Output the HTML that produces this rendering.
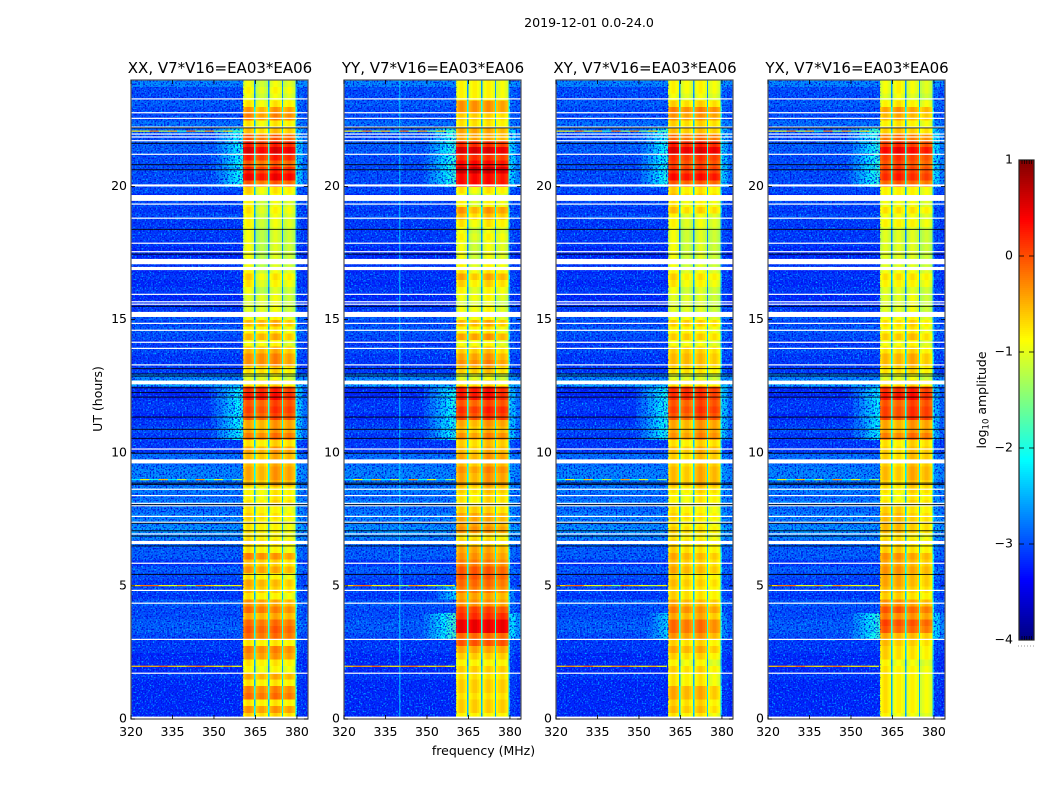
<!DOCTYPE html>
<html lang="en">
<head>
<meta charset="utf-8">
<title>2019-12-01 0.0-24.0 dynamic spectra</title>
<style>
html,body{margin:0;padding:0;background:#fff;}
svg{display:block;font-family:"DejaVu Sans","Liberation Sans",sans-serif;}
text{fill:#000;}
</style>
</head>
<body>
<svg id="figure" width="1050" height="800" viewBox="0 0 1050 800" xmlns="http://www.w3.org/2000/svg">
  <defs>
    <filter id="speckle-light" x="0" y="0" width="100%" height="100%" color-interpolation-filters="sRGB">
      <feTurbulence type="fractalNoise" baseFrequency="0.62" numOctaves="1" seed="4"/>
      <feColorMatrix type="matrix" values="0 0 0 0 0  0 0 0 0 0.68  0 0 0 0 1  4 0 0 0 -2.05"/>
    </filter>
    <filter id="speckle-dark" x="0" y="0" width="100%" height="100%" color-interpolation-filters="sRGB">
      <feTurbulence type="fractalNoise" baseFrequency="0.62" numOctaves="1" seed="11"/>
      <feColorMatrix type="matrix" values="0 0 0 0 0  0 0 0 0 0.06  0 0 0 0 0.88  0 4.5 0 0 -2.15"/>
    </filter>
  </defs>
  <rect x="0" y="0" width="1050" height="800" fill="#fff"/>
  <text x="589" y="27" font-size="12.6" text-anchor="middle">2019-12-01 0.0-24.0</text>
  <text x="0" y="0" font-size="12.5" text-anchor="middle" transform="translate(102,399) rotate(-90)">UT (hours)</text>
  <text x="483.500" y="755" font-size="12.5" text-anchor="middle">frequency (MHz)</text>
  <text x="0" y="0" font-size="12.5" text-anchor="middle" transform="translate(986,400) rotate(-90)">log<tspan font-size="8.500" dy="2.500">10</tspan><tspan dy="-2.500"> amplitude</tspan></text>
  <g id="panels"></g>
  <g id="colorbar"></g>
</svg>
<script>
// ---- Data: log10 amplitude x10, one value per 0.25 h of UT ----
const panelTitles = ["XX, V7*V16=EA03*EA06", "YY, V7*V16=EA03*EA06", "XY, V7*V16=EA03*EA06", "YX, V7*V16=EA03*EA06"];
const bandXX = [
  -7,-4,-8,-2,-3,-8,-5,-9,-8,-4,-3,-8,
  -2,-1,-2,-5,-2,-4,-8,-6,-5,-8,-4,-6,
  -3,-8,-7,-8,-8,-8,-7,-8,-7,-8,-8,-5,
  -4,-4,-5,-5,-4,-7,-2,-4,-4,0,1,0,
  3,2,-7,-10,-7,-3,-3,-5,-9,-5,-8,-5,
  -9,-10,-10,-10,-10,-8,-7,-9,-10,-10,-10,-10,
  -10,-10,-9,-9,-8,-9,-8,-7,-1,4,2,-1,
  2,5,2,-1,-6,-8,-3,-4,-8,-10,-9,-10];
const bandYY = [
  -9,-7,-7,-8,-7,-7,-8,-7,-9,-7,-5,-1,
  -2,4,4,1,0,-4,-5,-3,-2,-1,-1,-3,
  -4,-5,-7,-8,-4,-5,-5,-7,-7,-7,-6,-4,
  -4,-3,-5,-4,-5,-6,-3,-5,-4,1,2,0,
  3,3,-7,-10,-6,-3,-4,-6,-9,-4,-8,-5,
  -9,-9,-10,-9,-9,-7,-5,-8,-9,-10,-10,-10,
  -9,-10,-8,-6,-4,-9,-10,-8,3,3,6,3,
  1,5,1,-5,-5,-8,-7,-4,-4,-9,-9,-9];
const bandXY = [
  -8,-6,-7,-5,-5,-8,-8,-7,-9,-7,-5,-7,
  -4,-2,-2,-5,-3,-5,-7,-7,-6,-7,-5,-6,
  -5,-7,-7,-8,-7,-8,-7,-8,-8,-8,-7,-5,
  -5,-5,-6,-6,-5,-7,-3,-4,-4,0,1,0,
  2,2,-7,-10,-7,-5,-5,-6,-9,-6,-8,-6,
  -9,-10,-10,-10,-10,-8,-7,-9,-10,-10,-10,-10,
  -10,-10,-9,-9,-6,-8,-6,-7,-1,3,1,0,
  1,5,2,-2,-6,-7,-4,-3,-7,-10,-9,-9];
const bandYX = [
  -9,-8,-8,-8,-8,-8,-8,-8,-9,-7,-7,-6,
  -5,-1,0,-3,-1,-4,-7,-6,-5,-5,-4,-5,
  -4,-7,-7,-8,-6,-6,-6,-7,-7,-8,-7,-6,
  -5,-5,-6,-6,-6,-7,-2,-4,-4,1,1,0,
  3,2,-7,-10,-7,-5,-5,-7,-9,-6,-8,-7,
  -9,-10,-10,-10,-10,-8,-7,-9,-10,-10,-10,-10,
  -10,-10,-8,-9,-7,-9,-8,-8,-1,2,1,0,
  1,4,1,-2,-6,-8,-5,-4,-8,-10,-9,-9];
const backgroundLevel = [
  -32,-32,-32,-32,-32,-32,-31,-32,-32,-32,-31,-31,
  -30,-29,-29,-30,-30,-29,-31,-30,-31,-30,-29,-31,
  -29,-29,-28,-27,-26,-27,-27,-28,-27,-28,-27,-28,
  -27,-27,-28,-28,-31,-31,-31,-30,-31,-32,-31,-31,
  -32,-32,-25,-27,-31,-31,-31,-30,-31,-30,-29,-30,
  -29,-31,-32,-32,-31,-32,-31,-32,-31,-32,-32,-31,
  -31,-31,-31,-30,-31,-30,-32,-30,-30,-30,-30,-30,
  -30,-29,-29,-30,-29,-28,-30,-30,-29,-30,-30,-27];
// Sub-band offsets (4 sub-bands) for each 4-hour stretch of UT
const subbandXX = [[1,0,1,0],[1,0,0,-1],[0,-1,1,0],[0,0,1,-1],[1,-2,0,-1],[1,-1,1,0]];
const subbandYY = [[1,1,1,1],[1,1,1,0],[0,-1,1,0],[0,0,1,-1],[1,-1,1,0],[1,1,1,0]];
const subbandXY = [[1,0,1,-1],[1,0,0,-1],[0,-1,1,0],[0,0,0,-1],[1,-1,0,-1],[1,0,1,0]];
const subbandYX = [[1,0,0,-1],[1,1,0,-1],[0,-1,1,0],[0,0,1,-1],[0,0,0,-1],[0,1,0,-1]];
// Glow beside the band: [UT start, UT end, log10 amp x10 at band edge]
const shoulderXX = [[19.9,22.3,-20],[10.6,12.5,-20]];
const shoulderYY = [[19.9,22.3,-19],[10.6,12.5,-20],[3.1,4.0,-18],[4.5,5.0,-23]];
const shoulderXY = [[19.9,22.3,-20],[10.6,12.5,-20],[3.1,4.0,-23]];
const shoulderYX = [[19.9,22.3,-19],[10.6,12.5,-21],[3.0,4.0,-19]];
const verticalYY = [[340,-22]];
// Flagged data, UT hours, shared by all panels
const whiteLines = [23.29,22.77,22.56,22.23,21.97,21.86,21.72,21.21,19.34,18.81,17.87,17.55,15.95,15.67,15.58,14.86,14.60,14.15,13.92,13.30,10.14,8.63,8.39,8.10,8.01,7.61,7.39,6.95,5.85,4.83,4.35,2.99,1.72];
const whiteBlocks = [[20.0,20.08],[19.46,19.68],[17.08,17.28],[16.86,16.98],[15.10,15.29],[12.57,12.71],[9.60,9.75],[6.57,6.69],[0.01,0.09]];
const blackLines = [22.2,21.62,20.82,20.63,18.39,17.46,15.50,13.16,12.96,12.88,12.44,12.26,12.09,11.34,10.88,10.54,9.98,8.86,8.81,8.05,7.35,7.07,6.87,6.50,5.43];
// Interference rows: UT and amplitude along the off-band channels
const rfiHours = [1.98,5.01,22.08,8.99];
const rfiValues1 = [-6,-3,-5,-1,-6,-8,-4,-2,-6,-8,-5,-9];
const rfiValues2 = [-7,-2,-1,-8,-10,-5,-14,-3,-6,-9,-12,-8];
const rfiValues3 = [-8,-10,-3,-12,-6,-18,-2,-13,-4,-14,-7,-16];
const rfiValues4 = [-22,-9,-20,-6,-22,-12,-24,-4,-20,-10,-24,-14];
const xTicks = [320,335,350,365,380];
const yTicks = [0,5,10,15,20];
const colorTicks = [1,0,-1,-2,-3,-4];

const bandPanels = [bandXX, bandYY, bandXY, bandYX];
const subbandPanels = [subbandXX, subbandYY, subbandXY, subbandYX];
const shoulderPanels = [shoulderXX, shoulderYY, shoulderXY, shoulderYX];
const verticalPanels = [[], verticalYY, [], []];
const rfiPanels = [rfiValues1, rfiValues2, rfiValues3, rfiValues4];

// ---- Geometry and scales ----
const SVGNS = "http://www.w3.org/2000/svg";
const panelLefts = [131,344,556,768];
const plotW = 177, plotTop = 80, plotBottom = 719;
const fMin = 320, fMax = 384;
const offEdges = [320,325,330,335,340,345,347,349,351,353,355,357,359,360.5];
const subbandEdges = [360.5,365,370,375,380];
const profile = [-2,-1,0,0,-1,-2];
function xScale(left, mhz){ return left + (mhz - fMin) / (fMax - fMin) * plotW; }
function yScale(ut){ return plotBottom - ut / 24 * (plotBottom - plotTop); }
function cScale(v){ return 640 - (v + 4) / 5 * 480; }
function jet(v){
  const t = Math.max(0, Math.min(1, (v + 4) / 5));
  const ramp = function(x){ return Math.max(0, Math.min(1, 1.5 - Math.abs(4 * x))); };
  const r = Math.round(255 * ramp(t - 0.75));
  const g = Math.round(255 * ramp(t - 0.5));
  const b = Math.round(255 * ramp(t - 0.25));
  return "rgb(" + r + "," + g + "," + b + ")";
}
function make(tag, attrs){
  const el = document.createElementNS(SVGNS, tag);
  for (const k in attrs) el.setAttribute(k, attrs[k]);
  return el;
}
function shoulderAt(list, ut){
  let s = -99;
  for (const item of list){ if (ut >= item[0] && ut <= item[1] && item[2] > s) s = item[2]; }
  return s;
}

const panelsGroup = document.getElementById("panels");
panelTitles.forEach(function(title, p){
  const left = panelLefts[p];
  const g = make("g", {});
  
  
  const band = bandPanels[p], sub = subbandPanels[p], sh = shoulderPanels[p];
  const frag = document.createDocumentFragment();
  function cell(f0, f1, i, tenths){
    const y1 = yScale(i / 4), y0 = yScale((i + 1) / 4);
    const r = make("rect", {x: xScale(left, f0).toFixed(2), y: y0.toFixed(2), width: (xScale(left, f1) - xScale(left, f0) + 0.4).toFixed(2), height: (y1 - y0 + 0.4).toFixed(2), fill: jet(tenths / 10), "shape-rendering": "crispEdges"});
    
    
    frag.appendChild(r);
  }
  for (let i = 0; i < band.length; i++){
    const ut = (i + 0.5) / 4, bg = backgroundLevel[i], edge = shoulderAt(sh, ut);
    const seg = sub[Math.floor(i / 16)];
    for (let c = 0; c < offEdges.length - 1; c++){
      const dist = 360.5 - offEdges[c + 1];
      cell(offEdges[c], offEdges[c + 1], i, Math.max(bg, edge - dist * 1.0));
    }
    for (let s = 0; s < 4; s++){
      const a = subbandEdges[s], b = subbandEdges[s + 1], gap = 0.45;
      const w = (b - a - gap) / profile.length;
      for (let k = 0; k < profile.length; k++){
        cell(a + k * w, a + (k + 1) * w, i, band[i] + seg[s] + profile[k]);
      }
      cell(b - gap, b, i, Math.max(-28, Math.min(-20, band[i] - 17)));
    }
    cell(380, 382, i, Math.max(bg + 1, edge - 4));
    cell(382, 384, i, Math.max(bg, edge - 8));
  }
  g.appendChild(frag);

  [[320,360.5],[380,384]].forEach(function(range){
    ["speckle-light","speckle-dark"].forEach(function(id){
      const t = make("rect", {x: xScale(left, range[0]), y: plotTop, width: xScale(left, range[1]) - xScale(left, range[0]), height: plotBottom - plotTop, filter: "url(#" + id + ")"});
      
      
      g.appendChild(t);
    });
  });

  verticalPanels[p].forEach(function(v){
    const r = make("rect", {x: xScale(left, v[0]), y: plotTop, width: 1, height: plotBottom - plotTop, fill: jet(v[1] / 10), opacity: 0.8});
    
    
    g.appendChild(r);
  });

  rfiHours.forEach(function(ut, n){
    const vals = rfiPanels[n];
    vals.forEach(function(v, j){
      const f0 = 320 + j * 40 / vals.length, f1 = 320 + (j + 1) * 40 / vals.length;
      const r = make("rect", {x: xScale(left, f0), y: yScale(ut) - 0.6, width: xScale(left, f1) - xScale(left, f0) + 0.3, height: 1.2, fill: jet(v / 10)});
      
      
      g.appendChild(r);
    });
  });

  whiteLines.forEach(function(ut){
    const r = make("rect", {x: left, y: yScale(ut) - 0.6, width: plotW, height: 1.2, fill: "#fff"});
    
    
    g.appendChild(r);
  });
  whiteBlocks.forEach(function(b){
    const r = make("rect", {x: left, y: yScale(b[1]), width: plotW, height: yScale(b[0]) - yScale(b[1]), fill: "#fff"});
    
    
    g.appendChild(r);
  });
  blackLines.forEach(function(ut){
    const r = make("rect", {x: left, y: yScale(ut) - 0.5, width: plotW, height: 1, fill: "#000", opacity: 0.85});
    
    
    g.appendChild(r);
  });

  const frame = make("rect", {x: left, y: plotTop, width: plotW, height: plotBottom - plotTop, fill: "none", stroke: "#555", "stroke-width": 1.2});
  
  
  g.appendChild(frame);

  const t = make("text", {x: left + plotW / 2 + 0.5, y: 73, "font-size": 15, "text-anchor": "middle"});
  t.textContent = title;
  
  
  g.appendChild(t);

  xTicks.forEach(function(v){
    const x = xScale(left, v);
    [[plotBottom, plotBottom - 4],[plotTop, plotTop + 4]].forEach(function(pair){
      const l = make("line", {x1: x, x2: x, y1: pair[0], y2: pair[1], stroke: "#000", "stroke-width": 0.8});
      
      
      g.appendChild(l);
    });
    const lab = make("text", {x: x, y: 736, "font-size": 12.5, "text-anchor": "middle"});
    lab.textContent = v;
    
    
    g.appendChild(lab);
  });
  yTicks.forEach(function(v){
    const y = yScale(v);
    [[left, left + 4],[left + plotW, left + plotW - 4]].forEach(function(pair){
      const l = make("line", {x1: pair[0], x2: pair[1], y1: y, y2: y, stroke: "#000", "stroke-width": 0.8});
      
      
      g.appendChild(l);
    });
    const lab = make("text", {x: left - 4, y: y + 3.6, "font-size": 12.5, "text-anchor": "end"});
    lab.textContent = v;
    
    
    g.appendChild(lab);
  });
  panelsGroup.appendChild(g);
});

// ---- Colorbar ----
const cb = document.getElementById("colorbar");
const cbX = 1019, cbW = 15;
for (let py = 160; py < 640; py += 2){
  const level = (640 - py - 1) / 480 * 5 - 4;
  const r = make("rect", {x: cbX, y: py, width: cbW, height: 2.3, fill: jet(level), "shape-rendering": "crispEdges"});
  
  
  cb.appendChild(r);
}
const cbFrame = make("rect", {x: cbX, y: 160, width: cbW, height: 480, fill: "none", stroke: "#222", "stroke-width": 1.2});


cb.appendChild(cbFrame);
colorTicks.forEach(function(v){
  const y = cScale(v);
  const isEnd = v === 1 || v === -4;
  if (!isEnd){
    [[cbX, cbX + 5],[cbX + cbW, cbX + cbW - 5]].forEach(function(pair){
      const l = make("line", {x1: pair[0], x2: pair[1], y1: y, y2: y, stroke: "#000", "stroke-width": 0.8});
      
      
      cb.appendChild(l);
    });
  }
  const lab = make("text", {x: 1013, y: y + 3.6, "font-size": 12.5, "text-anchor": "end"});
  lab.textContent = String(v).replace("-", "\u2212");
  
  
  cb.appendChild(lab);
});
[0,1,2,3,4].forEach(function(n){
  [[160,164],[640,636]].forEach(function(pair){
    const l = make("line", {x1: cbX + 3 + n * 2.4, x2: cbX + 3 + n * 2.4, y1: pair[0], y2: pair[1], stroke: "#000", "stroke-width": 0.7});
    
    
    cb.appendChild(l);
  });
});
const dots = make("line", {x1: 1018, x2: 1035, y1: 646, y2: 646, stroke: "#999", "stroke-width": 1, "stroke-dasharray": "1 2"});


cb.appendChild(dots);
</script>
</body>
</html>
